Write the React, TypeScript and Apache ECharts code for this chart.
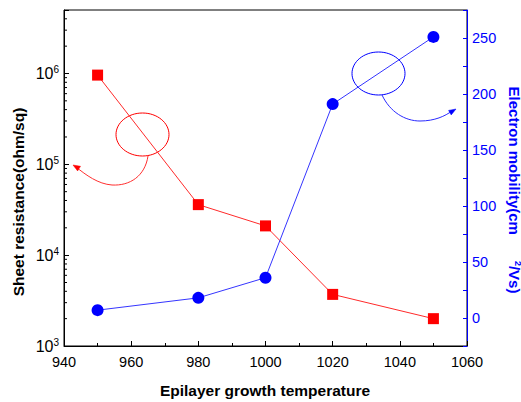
import React, { useEffect, useRef } from "react";
import * as echarts from "echarts";

const temperatures = [950, 980, 1000, 1020, 1050];
const sheetResistance = [9.6e5, 3.6e4, 2.1e4, 3.7e3, 2.0e3];
const electronMobility = [7, 18, 36, 191, 251];
const logMinorTicks: number[] = [];
for (const dec of [1e3, 1e4, 1e5, 1e6]) {
  for (let k = 2; k <= 9; k++) {
    if (k * dec < 5e6) logMinorTicks.push(k * dec);
  }
}

const FONT = "'Liberation Sans', Arial, sans-serif";

export default function App() {
  const ref = useRef<HTMLDivElement>(null);
  useEffect(() => {
    document.body.style.margin = "0";
    const chart = echarts.init(ref.current!, null, { renderer: "svg" });
    const redArrowTip = [73, 165];
    const blueArrowTip = [456, 109];
    chart.setOption({
      animation: false,
      backgroundColor: "#fff",
      textStyle: { fontFamily: FONT },
      grid: {
        left: 64,
        right: 54,
        top: 10,
        bottom: 56,
        show: true,
        borderColor: "#000",
        borderWidth: 1,
      },
      xAxis: {
        type: "value",
        min: 940,
        max: 1060,
        interval: 20,
        axisLine: { onZero: false, lineStyle: { color: "#000", width: 1 } },
        axisTick: { inside: true, length: 5, lineStyle: { color: "#000" } },
        minorTick: { show: true, splitNumber: 2, length: 3, lineStyle: { color: "#000" } },
        splitLine: { show: false },
        axisLabel: {
          color: "#000",
          fontSize: 14.5,
          margin: 8,
          fontFamily: FONT,
          formatter: (v: number) => String(v),
        },
      },
      yAxis: [
        {
          type: "log",
          logBase: 10,
          min: 1e3,
          max: 5e6,
          position: "left",
          axisLine: { show: true, onZero: false, lineStyle: { color: "#000", width: 1 } },
          axisTick: { show: true, inside: true, length: 5, lineStyle: { color: "#000" } },
          splitLine: { show: false },
          axisLabel: {
            margin: 5,
            formatter: (v: number) => {
              const e = Math.round(Math.log10(v));
              if (Math.abs(v - Math.pow(10, e)) > 1e-6 * v) return "";
              return `{b|10}{s|${e}}`;
            },
            rich: {
              b: { fontSize: 16, color: "#000", fontFamily: FONT, lineHeight: 18 },
              s: { fontSize: 10, color: "#000", fontFamily: FONT, verticalAlign: "top", lineHeight: 10 },
            },
          },
        },
        {
          type: "value",
          min: -25,
          max: 275,
          interval: 25,
          position: "right",
          axisLine: { show: true, onZero: false, lineStyle: { color: "#0000ff", width: 1 } },
          axisTick: { show: true, inside: true, length: 4, lineStyle: { color: "#0000ff" } },
          splitLine: { show: false },
          axisLabel: {
            color: "#0000ff",
            fontSize: 14.5,
            margin: 5,
            fontFamily: FONT,
            formatter: (v: number) => (v >= 0 && v <= 250 && v % 50 === 0 ? String(v) : ""),
          },
        },
      ],
      series: [
        {
          name: "Sheet resistance",
          type: "line",
          yAxisIndex: 0,
          data: temperatures.map((t, i) => [t, sheetResistance[i]]),
          symbol: "rect",
          symbolSize: 11,
          itemStyle: { color: "#ff0000" },
          lineStyle: { color: "#ff2a2a", width: 1 },
          z: 3,
        },
        {
          name: "Electron mobility",
          type: "line",
          yAxisIndex: 1,
          data: temperatures.map((t, i) => [t, electronMobility[i]]),
          symbol: "circle",
          symbolSize: 12,
          itemStyle: { color: "#0000ff" },
          lineStyle: { color: "#3535ff", width: 1 },
          z: 3,
        },
        {
          type: "custom",
          coordinateSystem: "cartesian2d",
          xAxisIndex: 0,
          yAxisIndex: 0,
          silent: true,
          clip: false,
          data: logMinorTicks.map((v) => [940, v]),
          renderItem: (params: any, api: any) => {
            const p = api.coord([940, api.value(1)]);
            return {
              type: "line",
              shape: { x1: p[0], y1: p[1], x2: p[0] + 3, y2: p[1] },
              style: { stroke: "#000", lineWidth: 1 },
            };
          },
        },
      ],
      graphic: [
        {
          type: "text",
          x: 18,
          y: 202,
          rotation: Math.PI / 2,
          style: {
            text: "Sheet resistance(ohm/sq)",
            fill: "#000",
            font: `bold 15.5px ${FONT}`,
            align: "center",
            verticalAlign: "middle",
          },
        },
        {
          type: "text",
          x: 265,
          y: 390,
          style: {
            text: "Epilayer growth temperature",
            fill: "#000",
            font: `bold 15.5px ${FONT}`,
            align: "center",
            verticalAlign: "middle",
          },
        },
        {
          type: "text",
          x: 514,
          y: 190,
          rotation: -Math.PI / 2,
          style: {
            text: "{a|Electron mobility(cm}{s|2}{a|/Vs)}",
            align: "center",
            verticalAlign: "middle",
            rich: {
              a: { fill: "#0000ff", fontWeight: "bold", fontSize: 15, fontFamily: FONT, lineHeight: 16 },
              s: { fill: "#0000ff", fontWeight: "bold", fontSize: 9, fontFamily: FONT, verticalAlign: "top", lineHeight: 9, padding: [0, 0, 0, 26] },
            },
          },
        },
        {
          type: "ellipse",
          shape: { cx: 142.5, cy: 134.5, rx: 26.5, ry: 21.5 },
          style: { fill: "none", stroke: "#ff0000", lineWidth: 1 },
        },
        {
          type: "bezierCurve",
          shape: { x1: 148, y1: 156, cpx1: 145, cpy1: 176, cpx2: 130, cpy2: 186, x2: 112, y2: 185 },
          style: { fill: "none", stroke: "#ff3030", lineWidth: 1 },
        },
        {
          type: "bezierCurve",
          shape: { x1: 112, y1: 185, cpx1: 98, cpy1: 184, cpx2: 86, cpy2: 175, x2: 76, y2: 167 },
          style: { fill: "none", stroke: "#ff3030", lineWidth: 1 },
        },
        {
          type: "polygon",
          shape: { points: [redArrowTip, [80.5, 166.3], [77.6, 170.9]] },
          style: { fill: "#ff0000", stroke: "#ff0000", lineWidth: 0.5 },
        },
        {
          type: "ellipse",
          shape: { cx: 378.5, cy: 73.5, rx: 26.5, ry: 21.5 },
          style: { fill: "none", stroke: "#0000ff", lineWidth: 1 },
        },
        {
          type: "bezierCurve",
          shape: { x1: 382, y1: 95, cpx1: 390, cpy1: 112, cpx2: 405, cpy2: 121, x2: 420, y2: 121 },
          style: { fill: "none", stroke: "#2a2aff", lineWidth: 1 },
        },
        {
          type: "bezierCurve",
          shape: { x1: 420, y1: 121, cpx1: 435, cpy1: 121, cpx2: 445, cpy2: 116, x2: 452, y2: 111 },
          style: { fill: "none", stroke: "#2a2aff", lineWidth: 1 },
        },
        {
          type: "polygon",
          shape: { points: [blueArrowTip, [451.2, 114.9], [448.6, 110.4]] },
          style: { fill: "#0000ff", stroke: "#0000ff", lineWidth: 0.5 },
        },
      ],
    });
    return () => chart.dispose();
  }, []);
  return <div ref={ref} style={{ width: 521, height: 402 }} />;
}
